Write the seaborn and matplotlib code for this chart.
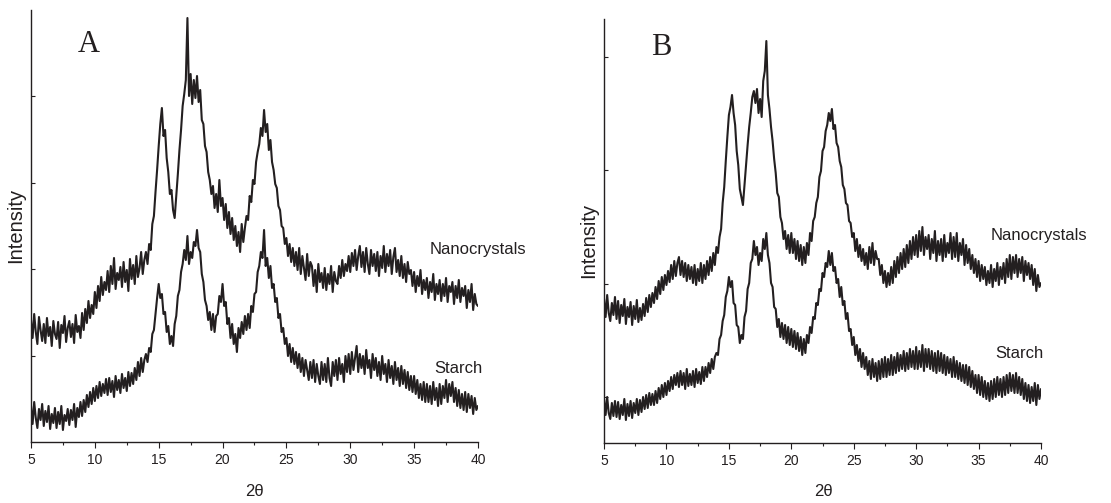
import numpy as np
import pandas as pd
import matplotlib
matplotlib.use("Agg")
import matplotlib.pyplot as plt
import seaborn as sns

# 2-theta grid of the read-off points (degrees), one row below = one degree
two_theta = np.arange(5.0, 40.0001, 0.125)

# panel A, intensities (arbitrary units, noise included)
a_nanocrystals = [
    122, 104, 128, 110, 98, 125, 112, 101,
    118, 99, 124, 106, 115, 96, 121, 108,
    103, 120, 94, 117, 109, 126, 100, 114,
    121, 105, 118, 99, 127, 110, 116, 104,
    129, 112, 133, 119, 141, 124, 137, 128,
    150, 134, 156, 141, 165, 147, 160, 152,
    171, 150, 176, 158, 184, 153, 169, 162,
    175, 155, 180, 160, 172, 151, 183, 163,
    177, 158, 186, 165, 174, 190, 168, 182,
    190, 178, 198, 192, 218, 226, 250, 272,
    296, 318, 334, 306, 312, 284, 270, 248,
    252, 232, 224, 246, 268, 292, 312, 336,
    348, 362, 424, 346, 368, 338, 362, 344,
    366, 340, 352, 322, 318, 296, 290, 270,
    262, 248, 256, 234, 248, 230, 262, 236,
    244, 222, 238, 214, 230, 208, 224, 202,
    216, 196, 210, 190, 218, 200, 214, 226,
    222, 246, 240, 262, 258, 280, 290, 298,
    314, 306, 332, 310, 318, 292, 302, 280,
    272, 258, 254, 236, 232, 216, 214, 198,
    204, 186, 198, 180, 194, 176, 190, 172,
    194, 168, 186, 174, 162, 188, 166, 180,
    176, 156, 172, 150, 178, 160, 169, 154,
    174, 152, 168, 158, 176, 150, 170, 161,
    158, 176, 164, 182, 166, 178, 171, 186,
    170, 189, 176, 192, 172, 186, 196, 175,
    190, 170, 194, 178, 168, 192, 176, 188,
    171, 190, 166, 186, 174, 196, 170, 188,
    176, 192, 168, 185, 194, 170, 182, 166,
    186, 164, 178, 160, 180, 168, 172, 156,
    170, 150, 166, 156, 172, 148, 162, 152,
    164, 144, 160, 150, 168, 142, 158, 148,
    162, 141, 158, 146, 164, 140, 156, 150,
    160, 138, 156, 144, 162, 140, 154, 146,
    156, 134, 152, 140, 158, 132, 148, 138,
    136,
]
a_starch = [
    36, 18, 40, 24, 14, 33, 22, 38,
    16, 31, 20, 36, 13, 28, 19, 34,
    14, 30, 18, 36, 12, 27, 21, 33,
    17, 32, 22, 38, 15, 34, 25, 40,
    26, 42, 30, 47, 35, 50, 38, 54,
    41, 56, 44, 60, 46, 58, 49, 63,
    47, 64, 50, 61, 45, 66, 52, 62,
    49, 68, 54, 64, 51, 70, 56, 69,
    58, 74, 62, 80, 66, 84, 70, 82,
    88, 80, 94, 90, 108, 112, 128, 144,
    158, 144, 148, 128, 130, 110, 116, 98,
    106, 96, 118, 126, 146, 152, 170, 178,
    192, 182, 206, 178, 190, 184, 200, 196,
    212, 194, 190, 168, 160, 142, 136, 122,
    130, 112, 128, 110, 126, 128, 146, 140,
    158, 136, 140, 118, 124, 104, 118, 98,
    108, 90, 114, 104, 120, 108, 126, 112,
    128, 114, 136, 130, 148, 150, 170, 176,
    190, 184, 212, 176, 184, 164, 176, 154,
    158, 140, 144, 124, 128, 110, 114, 98,
    104, 86, 98, 80, 94, 78, 90, 74,
    88, 70, 84, 66, 82, 72, 62, 80,
    64, 82, 60, 78, 66, 58, 80, 62,
    78, 60, 84, 64, 56, 80, 66, 82,
    62, 84, 68, 78, 60, 86, 70, 88,
    68, 90, 72, 84, 96, 70, 88, 74,
    86, 68, 92, 74, 82, 64, 88, 72,
    84, 66, 80, 62, 86, 68, 78, 60,
    82, 64, 76, 58, 80, 62, 74, 56,
    76, 58, 72, 54, 70, 52, 66, 50,
    66, 48, 62, 44, 58, 42, 60, 40,
    58, 40, 56, 38, 60, 42, 54, 36,
    58, 38, 56, 44, 62, 40, 58, 46,
    60, 40, 54, 36, 52, 34, 48, 32,
    50, 30, 48, 34, 46, 28, 44, 32,
    36,
]

# panel B
b_nanocrystals = [
    144, 126, 148, 130, 122, 140, 128, 146,
    124, 142, 120, 138, 127, 144, 119, 136,
    126, 141, 118, 137, 124, 143, 121, 135,
    123, 139, 127, 145, 131, 148, 136, 150,
    140, 156, 144, 162, 149, 166, 153, 168,
    158, 172, 161, 178, 164, 182, 167, 180,
    186, 168, 182, 166, 180, 162, 178, 164,
    176, 160, 178, 158, 174, 162, 180, 160,
    178, 164, 182, 168, 186, 172, 190, 178,
    196, 190, 206, 214, 240, 256, 282, 306,
    328, 336, 348, 330, 318, 292, 278, 254,
    246, 238, 258, 278, 298, 316, 330, 346,
    352, 340, 354, 330, 344, 326, 362, 372,
    402, 348, 334, 316, 302, 284, 270, 250,
    246, 226, 220, 204, 212, 194, 208, 190,
    210, 190, 204, 184, 202, 182, 198, 178,
    196, 180, 200, 188, 210, 202, 222, 226,
    240, 246, 266, 272, 292, 296, 312, 318,
    330, 322, 334, 314, 318, 300, 296, 282,
    276, 258, 254, 240, 238, 222, 220, 206,
    210, 192, 204, 186, 198, 182, 194, 178,
    190, 174, 196, 180, 200, 178, 192, 184,
    184, 168, 178, 160, 172, 156, 170, 158,
    176, 160, 182, 166, 186, 170, 190, 174,
    194, 176, 198, 180, 202, 184, 206, 188,
    208, 186, 212, 192, 216, 188, 206, 194,
    208, 184, 204, 190, 212, 182, 202, 188,
    204, 182, 208, 186, 200, 190, 210, 184,
    206, 186, 210, 182, 200, 188, 204, 178,
    198, 180, 194, 174, 188, 170, 184, 166,
    182, 162, 178, 164, 176, 158, 172, 160,
    178, 156, 174, 162, 180, 158, 176, 164,
    180, 160, 184, 166, 188, 164, 186, 170,
    188, 166, 184, 170, 186, 162, 182, 168,
    180, 164, 178, 158, 174, 152, 168, 156,
    160,
]
b_starch = [
    44, 28, 46, 30, 24, 40, 27, 42,
    26, 41, 24, 38, 28, 44, 23, 39,
    27, 42, 25, 40, 30, 44, 28, 43,
    31, 46, 34, 48, 35, 50, 38, 49,
    38, 52, 40, 55, 44, 58, 46, 60,
    48, 62, 52, 66, 54, 68, 58, 70,
    56, 72, 58, 70, 54, 74, 57, 69,
    58, 72, 56, 74, 60, 71, 59, 76,
    62, 76, 66, 80, 70, 84, 74, 86,
    90, 88, 104, 108, 122, 128, 146, 152,
    166, 156, 162, 140, 138, 118, 116, 100,
    108, 104, 126, 132, 154, 160, 180, 184,
    202, 188, 196, 178, 190, 182, 204, 194,
    210, 188, 180, 160, 156, 136, 134, 116,
    124, 106, 120, 104, 118, 100, 116, 98,
    114, 96, 112, 94, 110, 92, 106, 88,
    104, 90, 108, 100, 116, 110, 126, 124,
    140, 138, 154, 152, 170, 166, 180, 176,
    192, 178, 190, 172, 176, 160, 164, 146,
    156, 138, 142, 124, 130, 112, 114, 98,
    106, 88, 98, 82, 94, 76, 90, 74,
    86, 68, 82, 64, 84, 66, 80, 62,
    82, 64, 84, 66, 86, 66, 84, 68,
    88, 68, 86, 70, 90, 72, 88, 74,
    92, 72, 90, 74, 94, 76, 92, 74,
    96, 74, 92, 76, 98, 72, 94, 76,
    94, 74, 92, 72, 90, 70, 92, 72,
    90, 70, 88, 68, 86, 70, 84, 66,
    86, 66, 82, 64, 80, 62, 78, 60,
    78, 58, 76, 56, 72, 54, 68, 50,
    68, 48, 66, 46, 62, 44, 60, 42,
    62, 44, 64, 46, 66, 48, 64, 46,
    66, 48, 68, 50, 70, 52, 68, 50,
    70, 50, 66, 48, 64, 44, 60, 42,
    58, 40, 56, 42, 60, 38, 58, 44,
    54,
]

panel_letters = ["A", "B"]
series_names = ["Nanocrystals", "Starch"]

sns.set_theme(style="ticks")
plt.rcParams['font.family'] = ['Liberation Sans', 'DejaVu Sans']

LINE = "#231f20"

fig = plt.figure(figsize=(11.11, 5.03), dpi=100)
ax_a = fig.add_axes([0.0279, 0.1213, 0.4023, 0.8588])
ax_b = fig.add_axes([0.5437, 0.1193, 0.3933, 0.8429])

panels = [
    (ax_a, a_nanocrystals, a_starch, 432, [86, 173, 259, 346],
     [(36.2, 192), (36.6, 73)], (9.5, 398)),
    (ax_b, b_nanocrystals, b_starch, 424, [46, 159, 273, 386],
     [(36.0, 208), (36.3, 89)], (9.6, 396)),
]

for (ax, nano, starch, ytop, yticks, label_pos, letter_pos), letter in zip(panels, panel_letters):
    df = pd.DataFrame({"two_theta": two_theta, "Nanocrystals": nano, "Starch": starch})
    for name in series_names:
        sns.lineplot(data=df, x="two_theta", y=name, ax=ax, color=LINE, lw=1.5,
                     estimator=None, sort=False)
    ax.set_xlim(5, 40)
    ax.set_ylim(0, ytop)
    ax.set_xticks(range(5, 41, 5))
    ax.set_xticks(np.arange(7.5, 40, 5), minor=True)
    ax.set_yticks(yticks)
    ax.set_yticklabels([])
    ax.tick_params(axis="x", which="major", direction="out", length=4, width=0.8,
                   labelsize=10, pad=4, colors=LINE)
    ax.tick_params(axis="x", which="minor", direction="out", length=2.5, width=0.8, colors=LINE)
    ax.tick_params(axis="y", which="major", direction="in", length=3, width=0.8, colors=LINE)
    ax.set_xlabel("")
    ax.set_ylabel("")
    sns.despine(ax=ax)
    for sp in ["left", "bottom"]:
        ax.spines[sp].set_linewidth(1.0)
        ax.spines[sp].set_color(LINE)
    for name, (tx, ty) in zip(series_names, label_pos):
        ax.text(tx, ty, name, fontsize=12, color=LINE, ha="left", va="center")
    ax.text(letter_pos[0], letter_pos[1], letter, fontsize=22, color=LINE,
            family="Liberation Serif", ha="center", va="center")

fig.text(16 / 1111, 1 - 225 / 503, "Intensity", rotation=90, fontsize=14.5,
         ha="center", va="center", color=LINE)
fig.text(589 / 1111, 1 - 240 / 503, "Intensity", rotation=90, fontsize=14.5,
         ha="center", va="center", color=LINE)
fig.text(254 / 1111, 1 - 491 / 503, "2θ", fontsize=12, ha="center", va="center", color=LINE)
fig.text(823 / 1111, 1 - 491 / 503, "2θ", fontsize=12, ha="center", va="center", color=LINE)

fig.savefig("out.png", dpi=100, facecolor="white")
